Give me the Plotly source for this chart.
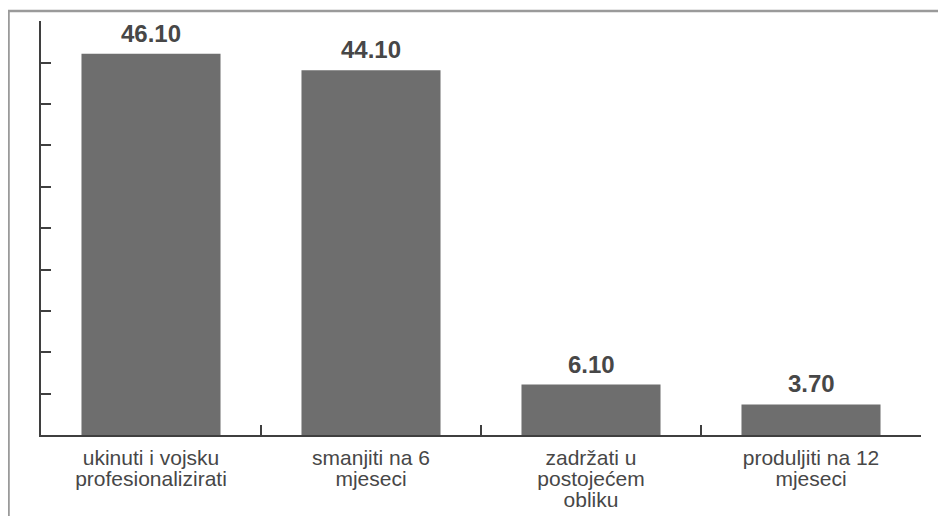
"""Bar chart: opinions on military service length (percent)."""

import plotly.graph_objects as go

CATEGORIES = [
    "ukinuti i vojsku profesionalizirati",
    "smanjiti na 6 mjeseci",
    "zadržati u postojećem obliku",
    "produljiti na 12 mjeseci",
]
TICK_LINES = [
    ["ukinuti i vojsku", "profesionalizirati"],
    ["smanjiti na 6", "mjeseci"],
    ["zadržati u", "postojećem", "obliku"],
    ["produljiti na 12", "mjeseci"],
]
VALUES = [46.10, 44.10, 6.10, 3.70]

BAR_COLOR = "#6e6e6e"
TEXT_COLOR = "#474747"
AXIS_COLOR = "#3f3f3f"
FONT = "Liberation Sans, Arial, sans-serif"

# the page body adds an 8px offset, so the figure is a little smaller
FIG_W, FIG_H = 938, 508


def tick_text(lines):
    span = "<span style='font-size:21px'>{}</span>"
    return "<br>".join(span.format(line) for line in lines)


fig = go.Figure()
fig.add_trace(
    go.Bar(
        x=CATEGORIES,
        y=VALUES,
        marker={"color": BAR_COLOR, "line": {"width": 0}},
        hoverinfo="x+y",
    )
)

for cat, val in zip(CATEGORIES, VALUES):
    fig.add_annotation(
        x=cat,
        y=val,
        text=f"<b>{val:.2f}</b>",
        showarrow=False,
        yanchor="bottom",
        yshift=5,
        font={"family": FONT, "size": 24, "color": TEXT_COLOR},
    )

# scanned page frame (top and left edges)
fig.add_shape(
    type="rect",
    xref="paper",
    yref="paper",
    x0=-0.0369,
    x1=1.2,
    y0=-0.4,
    y1=1.0242,
    line={"color": "#9a9a9a", "width": 2.5},
    fillcolor="rgba(0,0,0,0)",
    layer="below",
)

fig.update_layout(
    width=FIG_W,
    height=FIG_H,
    margin={"l": 33, "r": 25, "t": 13, "b": 81},
    paper_bgcolor="#ffffff",
    plot_bgcolor="#ffffff",
    bargap=0.368,
    showlegend=False,
    font={"family": FONT, "color": TEXT_COLOR},
)
fig.update_xaxes(
    type="category",
    tickvals=CATEGORIES,
    ticktext=[tick_text(lines) for lines in TICK_LINES],
    tickson="boundaries",
    ticks="inside",
    ticklen=10,
    tickwidth=2,
    tickcolor=AXIS_COLOR,
    ticklabelstandoff=9,
    showline=True,
    linecolor=AXIS_COLOR,
    linewidth=2,
    showgrid=False,
    automargin=False,
    tickfont={"family": FONT, "size": 16, "color": TEXT_COLOR},
)
fig.update_yaxes(
    range=[0, 50.05],
    tickvals=[5 * i for i in range(11)],
    ticks="inside",
    ticklen=10,
    tickwidth=2,
    tickcolor=AXIS_COLOR,
    showline=True,
    linecolor=AXIS_COLOR,
    linewidth=2,
    showgrid=False,
    zeroline=False,
    showticklabels=False,
)

fig.write_html("out.html")
